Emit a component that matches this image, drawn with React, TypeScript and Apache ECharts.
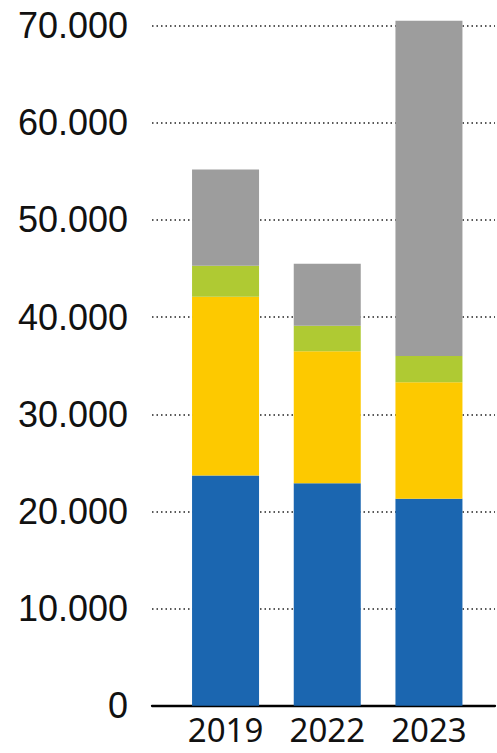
import React, { useEffect, useRef } from "react";
import * as echarts from "echarts";

const categories = ["2019", "2022", "2023"];
const blueValues = [23700, 22900, 21300];
const yellowValues = [18400, 13600, 12000];
const greenValues = [3200, 2600, 2700];
const grayValues = [9900, 6400, 34500];
const yMax = 70000;
const yStep = 10000;

const fmt = (v: number) => (v === 0 ? "0" : `${Math.round(v / 1000)}.000`);

export default function App() {
  const ref = useRef<HTMLDivElement>(null);
  useEffect(() => {
    document.body.style.margin = "0";
    const chart = echarts.init(ref.current!, undefined, { renderer: "svg" });
    const mkBar = (name: string, data: number[], color: string) => ({
      name,
      type: "bar",
      stack: "total",
      xAxisIndex: 1,
      yAxisIndex: 1,
      data,
      barWidth: 67,
      clip: false,
      itemStyle: { color },
    });
    chart.setOption({
      animation: false,
      grid: [
        { left: 152, right: 2, top: 25.7, bottom: 47.3 },
        { left: 174.7, right: 17.2, top: 25.7, bottom: 47.3 },
      ],
      xAxis: [
        {
          type: "category",
          gridIndex: 0,
          data: categories,
          axisLine: { show: true, lineStyle: { color: "#000", width: 2.3 } },
          axisTick: { show: false },
          axisLabel: { show: false },
          splitLine: { show: false },
        },
        {
          type: "category",
          gridIndex: 1,
          data: categories,
          axisLine: { show: false },
          axisTick: { show: false },
          axisLabel: {
            fontSize: 33,
            lineHeight: 34,
            fontFamily: "Noto Sans",
            color: "#111",
            margin: 7,
          },
          splitLine: { show: false },
        },
      ],
      yAxis: [
        {
          type: "value",
          gridIndex: 0,
          min: 0,
          max: yMax,
          interval: yStep,
          axisLine: { show: false },
          axisTick: { show: false },
          axisLabel: {
            formatter: fmt,
            fontSize: 36,
            fontFamily: "Liberation Sans",
            color: "#111",
            margin: 24,
          },
          splitLine: {
            show: true,
            lineStyle: { color: "#222", width: 1.5, type: [1.5, 3] },
          },
        },
        {
          type: "value",
          gridIndex: 1,
          min: 0,
          max: yMax,
          interval: yStep,
          show: false,
          splitLine: { show: false },
        },
      ],
      series: [
        mkBar("blue", blueValues, "#1b66b0"),
        mkBar("yellow", yellowValues, "#fdc900"),
        mkBar("green", greenValues, "#afca33"),
        mkBar("gray", grayValues, "#9d9d9d"),
      ],
    });
    return () => chart.dispose();
  }, []);
  return <div ref={ref} style={{ width: 497, height: 753 }} />;
}
